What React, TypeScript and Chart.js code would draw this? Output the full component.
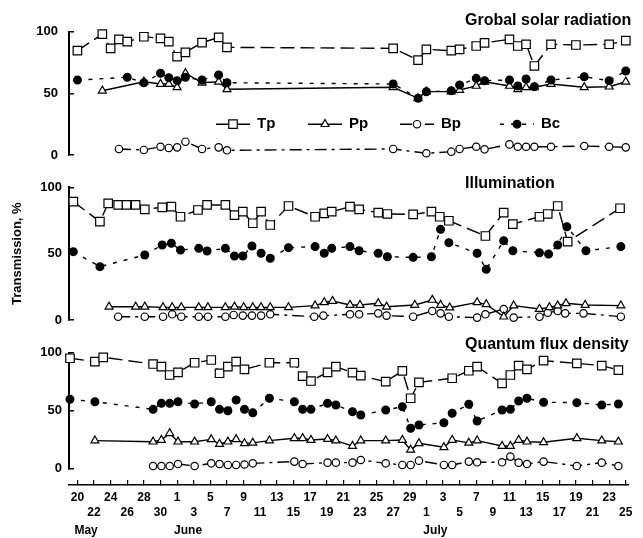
import React, { useEffect, useRef } from 'react';
import { Chart, registerables } from 'chart.js';
import { drawPoint } from 'chart.js/helpers';

Chart.register(...registerables);

// x values are days counted from May 20 (0) to July 25 (66)
const solarTpDays = [0, 3, 4, 5, 6, 8, 10, 11, 12, 13, 15, 17, 18, 38, 41, 42, 45, 46, 48, 49, 52, 53, 54, 55, 57, 60, 64, 66];
const solarTp = [84.6, 98, 86.5, 93.8, 91.9, 95.9, 94.6, 91.9, 79.7, 83.3, 91.1, 95.4, 87.3, 86.5, 77, 85.7, 84.6, 85.7, 88.4, 91, 93.8, 88.4, 89.8, 72.2, 89.8, 89.2, 89.8, 92.7];
const solarPpDays = [3, 8, 10, 11, 12, 13, 15, 17, 18, 38, 41, 42, 45, 46, 48, 49, 52, 53, 54, 55, 57, 61, 64, 66];
const solarPp = [52.1, 59.4, 57.6, 57.6, 54.9, 66.3, 58.6, 59.4, 53.3, 54.9, 46, 51.4, 51.4, 52.7, 56, 59.4, 56, 53.3, 54.9, 54.9, 57.6, 54.9, 55.4, 59.4];
const solarBpDays = [5, 8, 10, 11, 12, 13, 15, 17, 18, 38, 42, 45, 46, 48, 49, 52, 53, 54, 55, 57, 61, 64, 66];
const solarBp = [4.9, 4.1, 6.7, 5.7, 6.2, 10.8, 4.9, 6.2, 3.8, 4.9, 1.4, 2.7, 4.9, 6.7, 4.6, 8.6, 6.7, 6.7, 6.7, 6.7, 7.3, 6.7, 6.2];
const solarBcDays = [0, 6, 8, 10, 11, 12, 13, 15, 17, 18, 38, 41, 42, 45, 46, 48, 49, 52, 53, 54, 55, 57, 61, 64, 66];
const solarBc = [60.8, 63, 58.6, 66.3, 62.7, 60.3, 63, 60.8, 64.9, 58.6, 57.6, 46, 51.3, 52.2, 56.8, 62.2, 60.3, 60.8, 56, 61.6, 55.4, 60.8, 63.5, 60.3, 68.1];

const illumTpDays = [0.4, 3.6, 4.6, 5.8, 6.8, 7.9, 9.0, 11.1, 12.2, 13.3, 15.4, 16.5, 18.7, 19.8, 20.8, 22.0, 23.0, 24.1, 26.3, 29.5, 30.6, 31.5, 33.7, 34.8, 37.1, 38.2, 41.3, 43.5, 44.5, 45.6, 50.0, 52.2, 53.3, 56.5, 57.5, 58.7, 59.9, 66.2];
const illumTp = [89.2, 74.1, 87.9, 86.7, 86.7, 86.7, 83.4, 84.9, 85.4, 77.8, 82.9, 86.7, 86.7, 79.1, 81.6, 72.9, 81.6, 71.6, 85.9, 77.8, 80.4, 81.6, 85.4, 83.4, 80.9, 79.9, 79.6, 81.6, 77.8, 74.8, 63.3, 80.9, 72.3, 77.8, 79.9, 85.9, 59, 84.2];
const illumPpDays = [4.7, 7.9, 9.0, 11.2, 12.3, 13.4, 15.5, 16.6, 18.7, 19.8, 20.9, 22.0, 23.0, 24.1, 26.3, 29.5, 30.6, 31.6, 33.7, 34.9, 37.1, 38.1, 41.5, 43.6, 44.6, 45.7, 49.0, 50.1, 52.2, 53.4, 56.5, 57.7, 58.7, 59.7, 62.0, 66.3];
const illumPp = [10, 10, 10, 9.5, 9.5, 9.5, 9.5, 9.5, 9.5, 10, 9.5, 9.5, 9.5, 9.5, 9.5, 10.8, 13.3, 14.3, 11.3, 11.3, 12.6, 10, 11.3, 15.1, 11.3, 9.3, 13.3, 11.8, 2.5, 10.8, 8.3, 9.5, 10.8, 12.6, 11.3, 10.8];
const illumBpDays = [5.8, 9.0, 11.2, 12.3, 13.4, 15.5, 16.6, 18.7, 19.7, 20.8, 21.9, 23.0, 24.1, 29.4, 30.5, 33.7, 34.8, 37.1, 38.1, 41.3, 43.6, 44.6, 45.6, 49.0, 50.0, 52.2, 53.4, 56.5, 57.5, 58.7, 59.6, 61.8, 66.3];
const illumBp = [2.5, 2.5, 2.5, 4.3, 2.5, 2.5, 2.5, 2.5, 3.8, 3.3, 3.3, 3.3, 4.3, 2.5, 3.3, 4.3, 4.3, 5, 3.3, 2.5, 6.8, 5, 2.5, 1.8, 4.3, 8.3, 1.8, 2.5, 5.5, 6.8, 5, 5, 2.5];
const illumBcDays = [0.4, 3.6, 9.0, 11.1, 12.2, 13.3, 15.5, 16.5, 18.7, 19.8, 20.8, 21.9, 23.0, 24.1, 26.3, 29.5, 30.6, 31.5, 33.7, 34.8, 37.1, 38.2, 41.3, 43.5, 44.6, 45.6, 49.0, 50.1, 52.2, 53.3, 56.5, 57.6, 58.7, 59.8, 62.1, 66.3];
const illumBc = [51.5, 40.2, 49, 56.5, 57.8, 52.7, 54, 52, 54, 48.2, 48.2, 55.8, 50.3, 46.5, 54.5, 55.3, 50.3, 54, 55.3, 52.2, 50.3, 47.7, 47.2, 47.7, 68.3, 58.3, 50.3, 38.2, 59.8, 52.2, 50.7, 49.7, 56.5, 70.3, 52.2, 55.3];

const quantTpDays = [0, 3, 4, 10, 11, 12, 13, 15, 17, 18, 19, 20, 21, 24, 27, 28, 29, 31, 32, 34, 35, 38, 40, 41, 42, 46, 48, 49, 52, 53, 54, 55, 57, 61, 64, 66];
const quantTp = [95.2, 92.2, 96, 90.2, 87.9, 80.7, 83, 91.3, 93.7, 82.2, 87.9, 92.2, 85.6, 91.3, 91.3, 79.8, 75.5, 83, 87.9, 82.7, 80.1, 74.9, 84.2, 60.6, 74.4, 77.9, 84.4, 87.9, 73.5, 80.7, 88.8, 85.6, 93.1, 90.8, 88.8, 85];
const quantPpDays = [3, 10, 11, 12, 13, 15, 17, 18, 19, 20, 21, 22, 24, 27, 28, 29, 31, 32, 34, 35, 38, 40, 41, 42, 45, 46, 48, 49, 52, 53, 54, 55, 57, 61, 64, 66];
const quantPp = [23.9, 23, 24.5, 30.3, 23, 23, 25, 21, 23, 25, 21.6, 22, 23.9, 26, 26, 24.5, 25.3, 23.9, 19.3, 23.9, 23.9, 24.5, 15.9, 21.6, 18.2, 24.5, 22, 23.9, 19.3, 19.3, 24.5, 23, 22.5, 26, 23.9, 23];
const quantBpDays = [10, 11, 12, 13, 15, 17, 18, 19, 20, 21, 22, 27, 28, 31, 32, 34, 35, 38, 40, 41, 42, 45, 46, 48, 49, 52, 53, 54, 55, 57, 61, 64, 66];
const quantBp = [2, 2, 2, 3.7, 2, 4.3, 3.7, 2.9, 2.9, 3.3, 4.3, 5.8, 3.7, 4.9, 4.9, 4.9, 7.2, 4.3, 2.9, 2.9, 6.6, 2.9, 2.9, 5.8, 5.2, 5.2, 10.1, 4.9, 3.7, 5.8, 2, 4.9, 2];
const quantBcDays = [0, 3, 10, 11, 12, 13, 15, 17, 18, 19, 20, 21, 22, 24, 27, 28, 29, 31, 32, 34, 35, 38, 40, 41, 42, 45, 46, 48, 49, 52, 53, 54, 55, 57, 61, 64, 66];
const quantBc = [59.7, 57.6, 51, 56.2, 56.2, 57.6, 55.6, 57.6, 51, 49.8, 59.1, 51, 48.1, 60.6, 57.6, 51, 51, 56.2, 54.8, 49, 46.1, 50.4, 53.3, 34.6, 37.5, 39.4, 47.6, 55.4, 40.9, 50.4, 51, 58.2, 60.6, 57.1, 56.8, 54.8, 55.6];

const seriesNames = ['Tp', 'Pp', 'Bp', 'Bc'];
const panelTitles = ['Grobal solar radiation', 'Illumination', 'Quantum flux density'];
const yAxisTitle = 'Transmission, %';
const monthNames = ['May', 'June', 'July'];
const monthStartDays = [0, 12, 42];
const tickDays = Array.from({ length: 34 }, (_, i) => i * 2);

const FONT = '"Liberation Sans", Arial, Helvetica, sans-serif';

function dateLabel(d: number): string {
  if (d <= 11) return String(20 + d);
  if (d <= 41) return String(d - 11);
  return String(d - 41);
}

const styles: Record<string, any> = {
  Tp: { pointStyle: 'rect', radius: 6, fill: '#ffffff', dash: [14, 6], order: 2 },
  Pp: { pointStyle: 'triangle', radius: 4.6, fill: '#ffffff', dash: [], order: 1 },
  Bp: { pointStyle: 'circle', radius: 3.7, fill: '#ffffff', dash: [12, 5, 3, 5], order: 3 },
  Bc: { pointStyle: 'circle', radius: 3.9, fill: '#000000', dash: [4, 7], order: 0 },
};

function makeSet(name: string, days: number[], values: number[], yAxisID: string, xAxisID: string) {
  const s = styles[name];
  return {
    label: name,
    data: days.map((d, i) => ({ x: d, y: values[i] })),
    xAxisID,
    yAxisID,
    borderColor: '#000',
    borderWidth: 1.4,
    borderDash: s.dash,
    pointStyle: s.pointStyle,
    pointRadius: s.radius,
    pointBackgroundColor: s.fill,
    pointBorderColor: '#000',
    pointBorderWidth: 1.2,
    tension: 0,
    fill: false,
    clip: false,
    order: s.order,
  };
}

// layout constants (pixels)
const CHART_LEFT = 69;
const CHART_RIGHT = 635;
const PX_PER_DAY = 8.4;
const X_DAY0 = 77.5; // panel 1 and axis
const XB_DAY0 = 70; // panels 2 and 3
const titleX = 396;
const titleOffsets = [10.7, 3.3, 7.7];
const legendX = [147, 239, 331, 431];

const annotate = {
  id: 'annotate',
  afterDraw(chart: any) {
    const ctx = chart.ctx;
    const left = chart.chartArea.left;
    ctx.save();
    ctx.fillStyle = '#000';
    ctx.textBaseline = 'middle';
    ctx.textAlign = 'left';
    ctx.font = `bold 16px ${FONT}`;
    ['y1', 'y2', 'y3'].forEach((id, i) => {
      const sc = chart.scales[id];
      ctx.fillText(panelTitles[i], left + titleX, sc.getPixelForValue(100) - titleOffsets[i]);
    });
    const xs = chart.scales.x;
    ctx.font = `bold 12px ${FONT}`;
    monthNames.forEach((m, i) => {
      ctx.fillText(m, xs.getPixelForValue(monthStartDays[i]) - 3, xs.top + 46);
    });
    // legend
    const ly = chart.scales.y1.getPixelForValue(25);
    seriesNames.forEach((name, i) => {
      const ds = chart.data.datasets[i];
      const x0 = left + legendX[i];
      ctx.strokeStyle = '#000';
      ctx.lineWidth = 1.4;
      ctx.setLineDash(ds.borderDash || []);
      ctx.beginPath();
      ctx.moveTo(x0, ly);
      ctx.lineTo(x0 + 34, ly);
      ctx.stroke();
      ctx.setLineDash([]);
      ctx.fillStyle = ds.pointBackgroundColor;
      ctx.strokeStyle = '#000';
      ctx.lineWidth = 1.2;
      drawPoint(ctx, { pointStyle: ds.pointStyle, radius: ds.pointRadius, borderWidth: 1.2, rotation: 0 }, x0 + 17, ly);
      ctx.fillStyle = '#000';
      ctx.font = `bold 15px ${FONT}`;
      ctx.fillText(name, x0 + 41, ly);
    });
    ctx.restore();
  },
};

function yAxis(weight: number, stackWeight: number, pad: number, title?: string) {
  return {
    type: 'linear',
    position: 'left',
    stack: 'panels',
    stackWeight,
    weight,
    min: 0,
    max: 100,
    afterFit: (s: any) => { s.width = CHART_LEFT; },
    ticks: { stepSize: 25, padding: pad, color: '#000', font: { family: FONT, size: 13, weight: 'bold' } },
    grid: { display: true, drawOnChartArea: false, drawTicks: true, tickLength: -5, color: '#000', lineWidth: 1.5 },
    border: { display: true, color: '#000', width: 2 },
    title: title
      ? { display: true, text: title, color: '#000', font: { family: FONT, size: 13, weight: 'bold' }, padding: { top: 10, bottom: 0 } }
      : { display: false },
  };
}

function spacer(weight: number, stackWeight: number) {
  return { type: 'linear', position: 'left', stack: 'panels', stackWeight, weight, display: false };
}

export default function App() {
  const canvasRef = useRef<HTMLCanvasElement>(null);
  useEffect(() => {
    if (!canvasRef.current) return;
    const datasets = [
      makeSet('Tp', solarTpDays, solarTp, 'y1', 'x'),
      makeSet('Pp', solarPpDays, solarPp, 'y1', 'x'),
      makeSet('Bp', solarBpDays, solarBp, 'y1', 'x'),
      makeSet('Bc', solarBcDays, solarBc, 'y1', 'x'),
      makeSet('Tp', illumTpDays, illumTp, 'y2', 'xb'),
      makeSet('Pp', illumPpDays, illumPp, 'y2', 'xb'),
      makeSet('Bp', illumBpDays, illumBp, 'y2', 'xb'),
      makeSet('Bc', illumBcDays, illumBc, 'y2', 'xb'),
      makeSet('Tp', quantTpDays, quantTp, 'y3', 'xb'),
      makeSet('Pp', quantPpDays, quantPp, 'y3', 'xb'),
      makeSet('Bp', quantBpDays, quantBp, 'y3', 'xb'),
      makeSet('Bc', quantBcDays, quantBc, 'y3', 'xb'),
    ];
    const span = (CHART_RIGHT - CHART_LEFT) / PX_PER_DAY;
    const xMin = (CHART_LEFT - X_DAY0) / PX_PER_DAY;
    const xbMin = (CHART_LEFT - XB_DAY0) / PX_PER_DAY;
    const chart = new Chart(canvasRef.current, {
      type: 'line',
      data: { datasets } as any,
      plugins: [annotate],
      options: {
        animation: false,
        responsive: true,
        maintainAspectRatio: false,
        layout: { padding: { top: 31.7, right: 643 - CHART_RIGHT, bottom: 0, left: 0 } },
        plugins: { legend: { display: false }, tooltip: { enabled: false } },
        scales: {
          x: {
            type: 'linear',
            position: 'bottom',
            min: xMin,
            max: xMin + span,
            afterBuildTicks: (s: any) => { s.ticks = tickDays.map((v) => ({ value: v })); },
            afterFit: (s: any) => { s.height = 53; },
            ticks: {
              autoSkip: false,
              maxRotation: 0,
              minRotation: 0,
              padding: 10.5,
              color: '#000',
              font: { family: FONT, size: 12, weight: 'bold', lineHeight: 1.25 },
              callback: (v: any) => {
                const d = Math.round(Number(v));
                const lbl = dateLabel(d);
                return (d / 2) % 2 === 0 ? [lbl, ''] : ['', lbl];
              },
            },
            grid: { display: true, drawOnChartArea: false, drawTicks: true, tickLength: -5, color: '#000', lineWidth: 1.2 },
            border: { display: true, color: '#000', width: 1.5 },
          },
          xb: { type: 'linear', position: 'bottom', display: false, min: xbMin, max: xbMin + span },
          y1: yAxis(10, 123.3, 16),
          g1: spacer(8, 32.3),
          y2: yAxis(6, 132.7, 12, yAxisTitle),
          g2: spacer(4, 32.7),
          y3: yAxis(2, 115.6, 12),
          g3: spacer(1, 16.7),
        } as any,
      },
    } as any);
    return () => chart.destroy();
  }, []);
  return (
    <div style={{ position: 'absolute', left: 0, top: 0, width: 643, height: 538, background: '#fff' }}>
      <canvas ref={canvasRef} />
    </div>
  );
}
